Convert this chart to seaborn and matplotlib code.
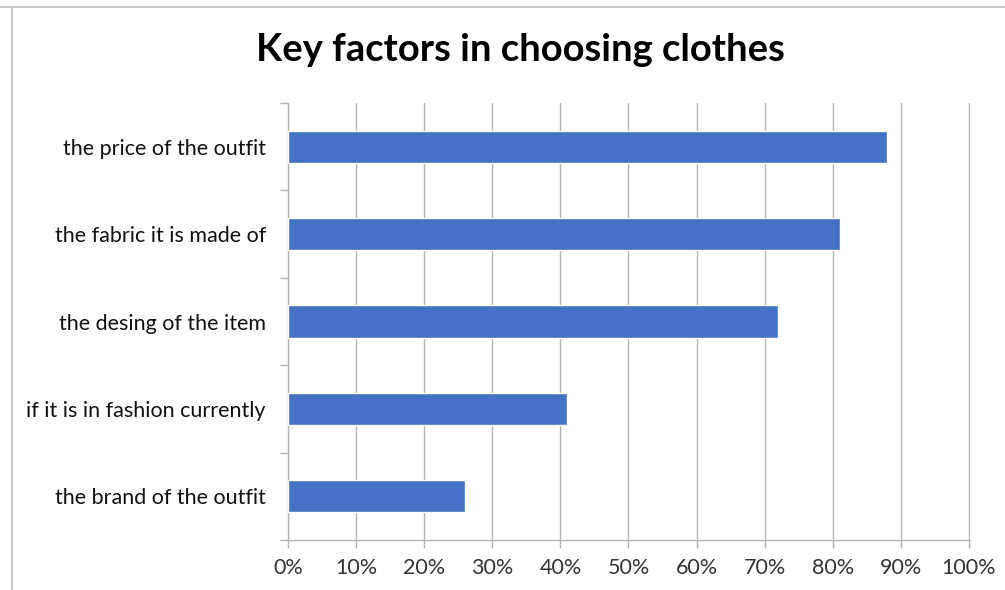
import matplotlib
matplotlib.use("Agg")
import matplotlib.pyplot as plt
import seaborn as sns
import pandas as pd
from matplotlib.lines import Line2D
from matplotlib.ticker import FuncFormatter, FixedLocator

categories = ["the price of the outfit", "the fabric it is made of", "the desing of the item",
              "if it is in fashion currently", "the brand of the outfit"]
values = [88, 81, 72, 41, 26]
x_ticks = [0, 10, 20, 30, 40, 50, 60, 70, 80, 90, 100]
title = "Key factors in choosing clothes"

sns.set_theme(style="white")
plt.rcParams['font.family'] = ['Lato', 'DejaVu Sans']

df = pd.DataFrame({"factor": categories, "share": values})

fig = plt.figure(figsize=(10.05, 5.9), dpi=100)
ax = fig.add_axes([288/1005, 50/590, 682/1005, 437/590])

sns.barplot(data=df, x="share", y="factor", orient="h", color="#4472C4",
            width=0.37, saturation=1, ax=ax, zorder=3)

ax.set_xlim(0, 100.15)
ax.set_ylim(4.5, -0.5)
ax.xaxis.set_major_locator(FixedLocator(x_ticks))
ax.xaxis.set_major_formatter(FuncFormatter(lambda v, p: f"{int(v)}%"))
ax.grid(axis="x", color="#b4b4b4", linewidth=1, zorder=0)
ax.grid(axis="y", visible=False)
ax.set_xlabel("")
ax.set_ylabel("")

for s in ["top", "right"]:
    ax.spines[s].set_visible(False)
for s in ["left", "bottom"]:
    ax.spines[s].set_color("#b4b4b4")
    ax.spines[s].set_linewidth(1)

ax.tick_params(axis="x", length=6, width=1, color="#b4b4b4", labelsize=15.5,
               labelcolor="#333333", pad=7, bottom=True)
ax.tick_params(axis="y", which="major", length=0, labelsize=15.5, labelcolor="#111111", pad=16)
ax.set_yticks([-0.5, 0.5, 1.5, 2.5, 3.5, 4.5], minor=True)
ax.tick_params(axis="y", which="minor", length=6, width=1, color="#b4b4b4", left=True)

fig.text(520/1005, 1 - 50/590, title, ha="center", va="center", fontsize=27.5,
         fontweight="bold", color="#000000")

fig.add_artist(Line2D([0, 1], [1 - 7/590, 1 - 7/590], color="#c8c8c8", linewidth=1.5,
                      transform=fig.transFigure))
fig.add_artist(Line2D([12/1005, 12/1005], [0, 1 - 7/590], color="#c8c8c8", linewidth=1.5,
                      transform=fig.transFigure))

fig.savefig("out.png", dpi=100)
